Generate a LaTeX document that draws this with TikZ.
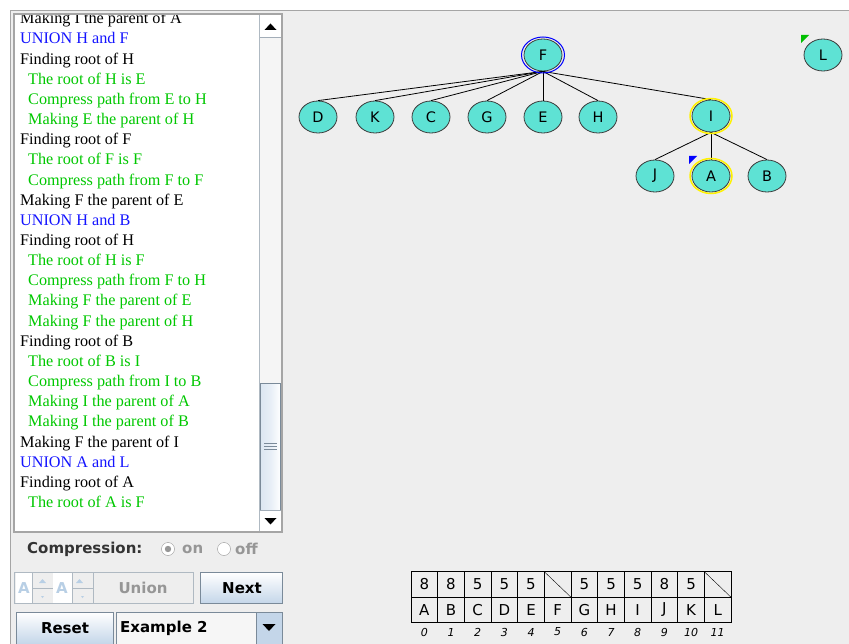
\documentclass[tikz,border=0pt]{standalone}
\usepackage{fontspec}
\setmainfont{Liberation Serif}
\setsansfont{DejaVu Sans}
\usetikzlibrary{shapes.geometric}
\usetikzlibrary{positioning}
\definecolor{panelgray}{RGB}{238,238,238}
\definecolor{framegray}{RGB}{165,165,165}
\definecolor{nodefill}{RGB}{94,226,212}
\definecolor{nodeedge}{RGB}{60,60,60}
\definecolor{logblue}{RGB}{20,20,255}
\definecolor{loggreen}{RGB}{0,200,0}
\definecolor{btnedge}{RGB}{122,138,153}
\definecolor{btnblue}{RGB}{196,214,233}
\definecolor{dimtext}{RGB}{150,150,150}
\definecolor{dimblue}{RGB}{184,207,229}
\newcommand{\cornermark}[2]% corner, colour
{\fill[#2] (#1) -- ++(8,0) -- ++(-8,8) -- cycle;
}
\tikzset{
  setnode/.style={ellipse, draw=nodeedge, fill=nodefill, line width=.8pt,
    minimum width=38, minimum height=32, inner sep=0,
    font=\sffamily\fontsize{14.5}{14.5}\selectfont},
  link/.style={line width=.8pt},
  logk/.style={anchor=base west, font=\fontsize{16.2}{16.2}\selectfont},
  logb/.style={logk, text=logblue},
  logg/.style={logk, text=loggreen, xshift=8},
  cell/.style={draw, line width=.7pt, minimum width=26.67, minimum height=25.5,
    inner sep=0, font=\sffamily\fontsize{15}{15}\selectfont},
  idx/.style={font=\sffamily\itshape\fontsize{11}{11}\selectfont},
  uitext/.style={font=\sffamily\bfseries\fontsize{15}{15}\selectfont},
  button/.style={draw=btnedge, top color=white, bottom color=btnblue}
}
\begin{document}
\begin{tikzpicture}[x=1pt, y=-1pt]
	\useasboundingbox (0,0) rectangle (849,644);
	\fill[white] (0,0) rectangle (849,644);
	\fill[panelgray] (10,10) rectangle (849,644);
	\draw[framegray, line width=1.5pt] (10.5,644) -- (10.5,10.5) -- (849,10.5);
	% log pane
	\fill[white] (15,15) rectangle (259,531);
	\begin{scope}
	\clip (15,15) rectangle (259,531);
	\foreach \s/\t [count=\i from 0] in {
		logk/Making I the parent of A,
		logb/UNION H and F,
		logk/Finding root of H,
		logg/The root of H is E,
		logg/Compress path from E to H,
		logg/Making E the parent of H,
		logk/Finding root of F,
		logg/The root of F is F,
		logg/Compress path from F to F,
		logk/Making F the parent of E,
		logb/UNION H and B,
		logk/Finding root of H,
		logg/The root of H is F,
		logg/Compress path from F to H,
		logg/Making F the parent of E,
		logg/Making F the parent of H,
		logk/Finding root of B,
		logg/The root of B is I,
		logg/Compress path from I to B,
		logg/Making I the parent of A,
		logg/Making I the parent of B,
		logk/Making F the parent of I,
		logb/UNION A and L,
		logk/Finding root of A,
		logg/The root of A is F}
		\node[\s, inner sep=0] (log\i) at (20,{23.85+20.15*\i}) {\t};
	\end{scope}
	\draw[framegray, line width=1.2pt] (14,14) rectangle (282,532);
	% scrollbar
	\fill[panelgray!60!white] (259,15) rectangle (281,531);
	\draw[btnedge!60] (259.5,15) -- (259.5,531);
	\fill[white] (260,15) rectangle (281,37);
	\draw[btnedge!70] (260,37) -- (281,37);
	\fill (264.5,30) -- (276.5,30) -- (270.5,23.5) -- cycle;
	\draw[btnedge, left color=btnblue!60, right color=white, middle color=btnblue!40] (260.5,383) rectangle (280.5,510);
	\draw[btnedge] (264,443) -- (277,443) (264,446) -- (277,446) (264,449) -- (277,449);
	\fill[white] (260,510.5) rectangle (281,531);
	\draw[btnedge!70] (260,510.5) -- (281,510.5);
	\fill (264.5,518) -- (276.5,518) -- (270.5,524.5) -- cycle;
	% controls
	\node[uitext, text=black!80, anchor=west, inner sep=0] (comp) at (27,549) {Compression:};
	\draw[dimtext, fill=white] (168,549) circle (6.5);
	\fill[dimtext] (168,549) circle (3.2);
	\node[uitext, text=dimtext, anchor=west, inner sep=0] (on) at (182,549) {on};
	\draw[dimtext, fill=white] (224,549) circle (6.5);
	\node[uitext, text=dimtext, anchor=west, inner sep=0] (off) at (235,549) {off};
	\fill[white] (16,572) rectangle (32,604);
	\node[uitext, text=dimblue] (spinA) at (24,588) {A};
	\draw[btnedge!60, fill=panelgray] (32,572.5) rectangle (53,588) (32,588) rectangle (53,603.5);
	\fill[white] (53,572) rectangle (72,604);
	\node[uitext, text=dimblue] (spinB) at (62,588) {A};
	\draw[btnedge!60, fill=panelgray] (72,572.5) rectangle (93,588) (72,588) rectangle (93,603.5);
	\fill[dimblue] (39,583) -- (46,583) -- (42.5,579) -- cycle (76,583) -- (83,583) -- (79.5,579) -- cycle;
	\fill[dimblue] (41,596) -- (44,596) -- (42.5,598) -- cycle (81,596) -- (84,596) -- (82.5,598) -- cycle;
	\draw[btnedge!60] (14,572.5) rectangle (193,603.5);
	\node[uitext, text=dimtext] (union) at (143,588) {Union};
	\draw[button] (200.5,572.5) rectangle (282,603.5);
	\node[uitext] (next) at (242,588) {Next};
	\draw[button] (16.5,612.5) rectangle (113,644);
	\node[uitext] (reset) at (65,628) {Reset};
	\draw[btnedge, fill=panelgray!50!white] (116.5,612.5) rectangle (256,644);
	\node[uitext, anchor=west, inner sep=0] (combo) at (120,628) {Example 2};
	\draw[btnedge, fill=btnblue] (256,612.5) rectangle (282,644);
	\fill (262.5,624) -- (275.5,624) -- (269,631) -- cycle;
	% tree
	\node[setnode] (F) at (543,55) {F};%5
	\node[setnode] (D) at (318,117) {D};%3
	\node[setnode] (K) at (375,117) {K};%10
	\node[setnode] (C) at (431,117) {C};%2
	\node[setnode] (G) at (487,117) {G};%6
	\node[setnode] (E) at (543,117) {E};%4
	\node[setnode] (H) at (598,117) {H};%7
	\node[setnode] (I) at (711,116) {I};%8
	\node[setnode] (J) at (655,176) {J};%9
	\node[setnode] (A) at (711,176) {A};%0
	\node[setnode] (B) at (767,176) {B};%1
	\node[setnode] (L) at (823,55) {L};%11
	\foreach \c in {D,K,C,G,E,H,I} \draw[link] (F.south) -- (\c.north);
	\foreach \c in {J,A,B} \draw[link] (I.south) -- (\c.north);
	\draw[blue, line width=1pt] (F.center) ellipse (21.5 and 18);
	\draw[yellow, line width=1.5pt] (I.center) ellipse (21 and 17.5);
	\draw[yellow, line width=1.5pt] (A.center) ellipse (21 and 17.5);
	\cornermark{801,35}{green!75!black}
	\cornermark{689,156}{blue}
	% parent array
	\foreach \v/\l [count=\i from 0] in {8/A,8/B,5/C,5/D,5/E,{}/F,5/G,5/H,5/I,8/J,5/K,{}/L}{
		\node[cell] (v\i) at ({424.33+26.67*\i},584.5) {\v};
		\node[cell] (n\i) at ({424.33+26.67*\i},610) {\l};
		\node[idx] (i\i) at ({424.33+26.67*\i},632) {\i};
	}
	\draw (v5.north west) -- (v5.south east);
	\draw (v11.north west) -- (v11.south east);
\end{tikzpicture}
\end{document}
